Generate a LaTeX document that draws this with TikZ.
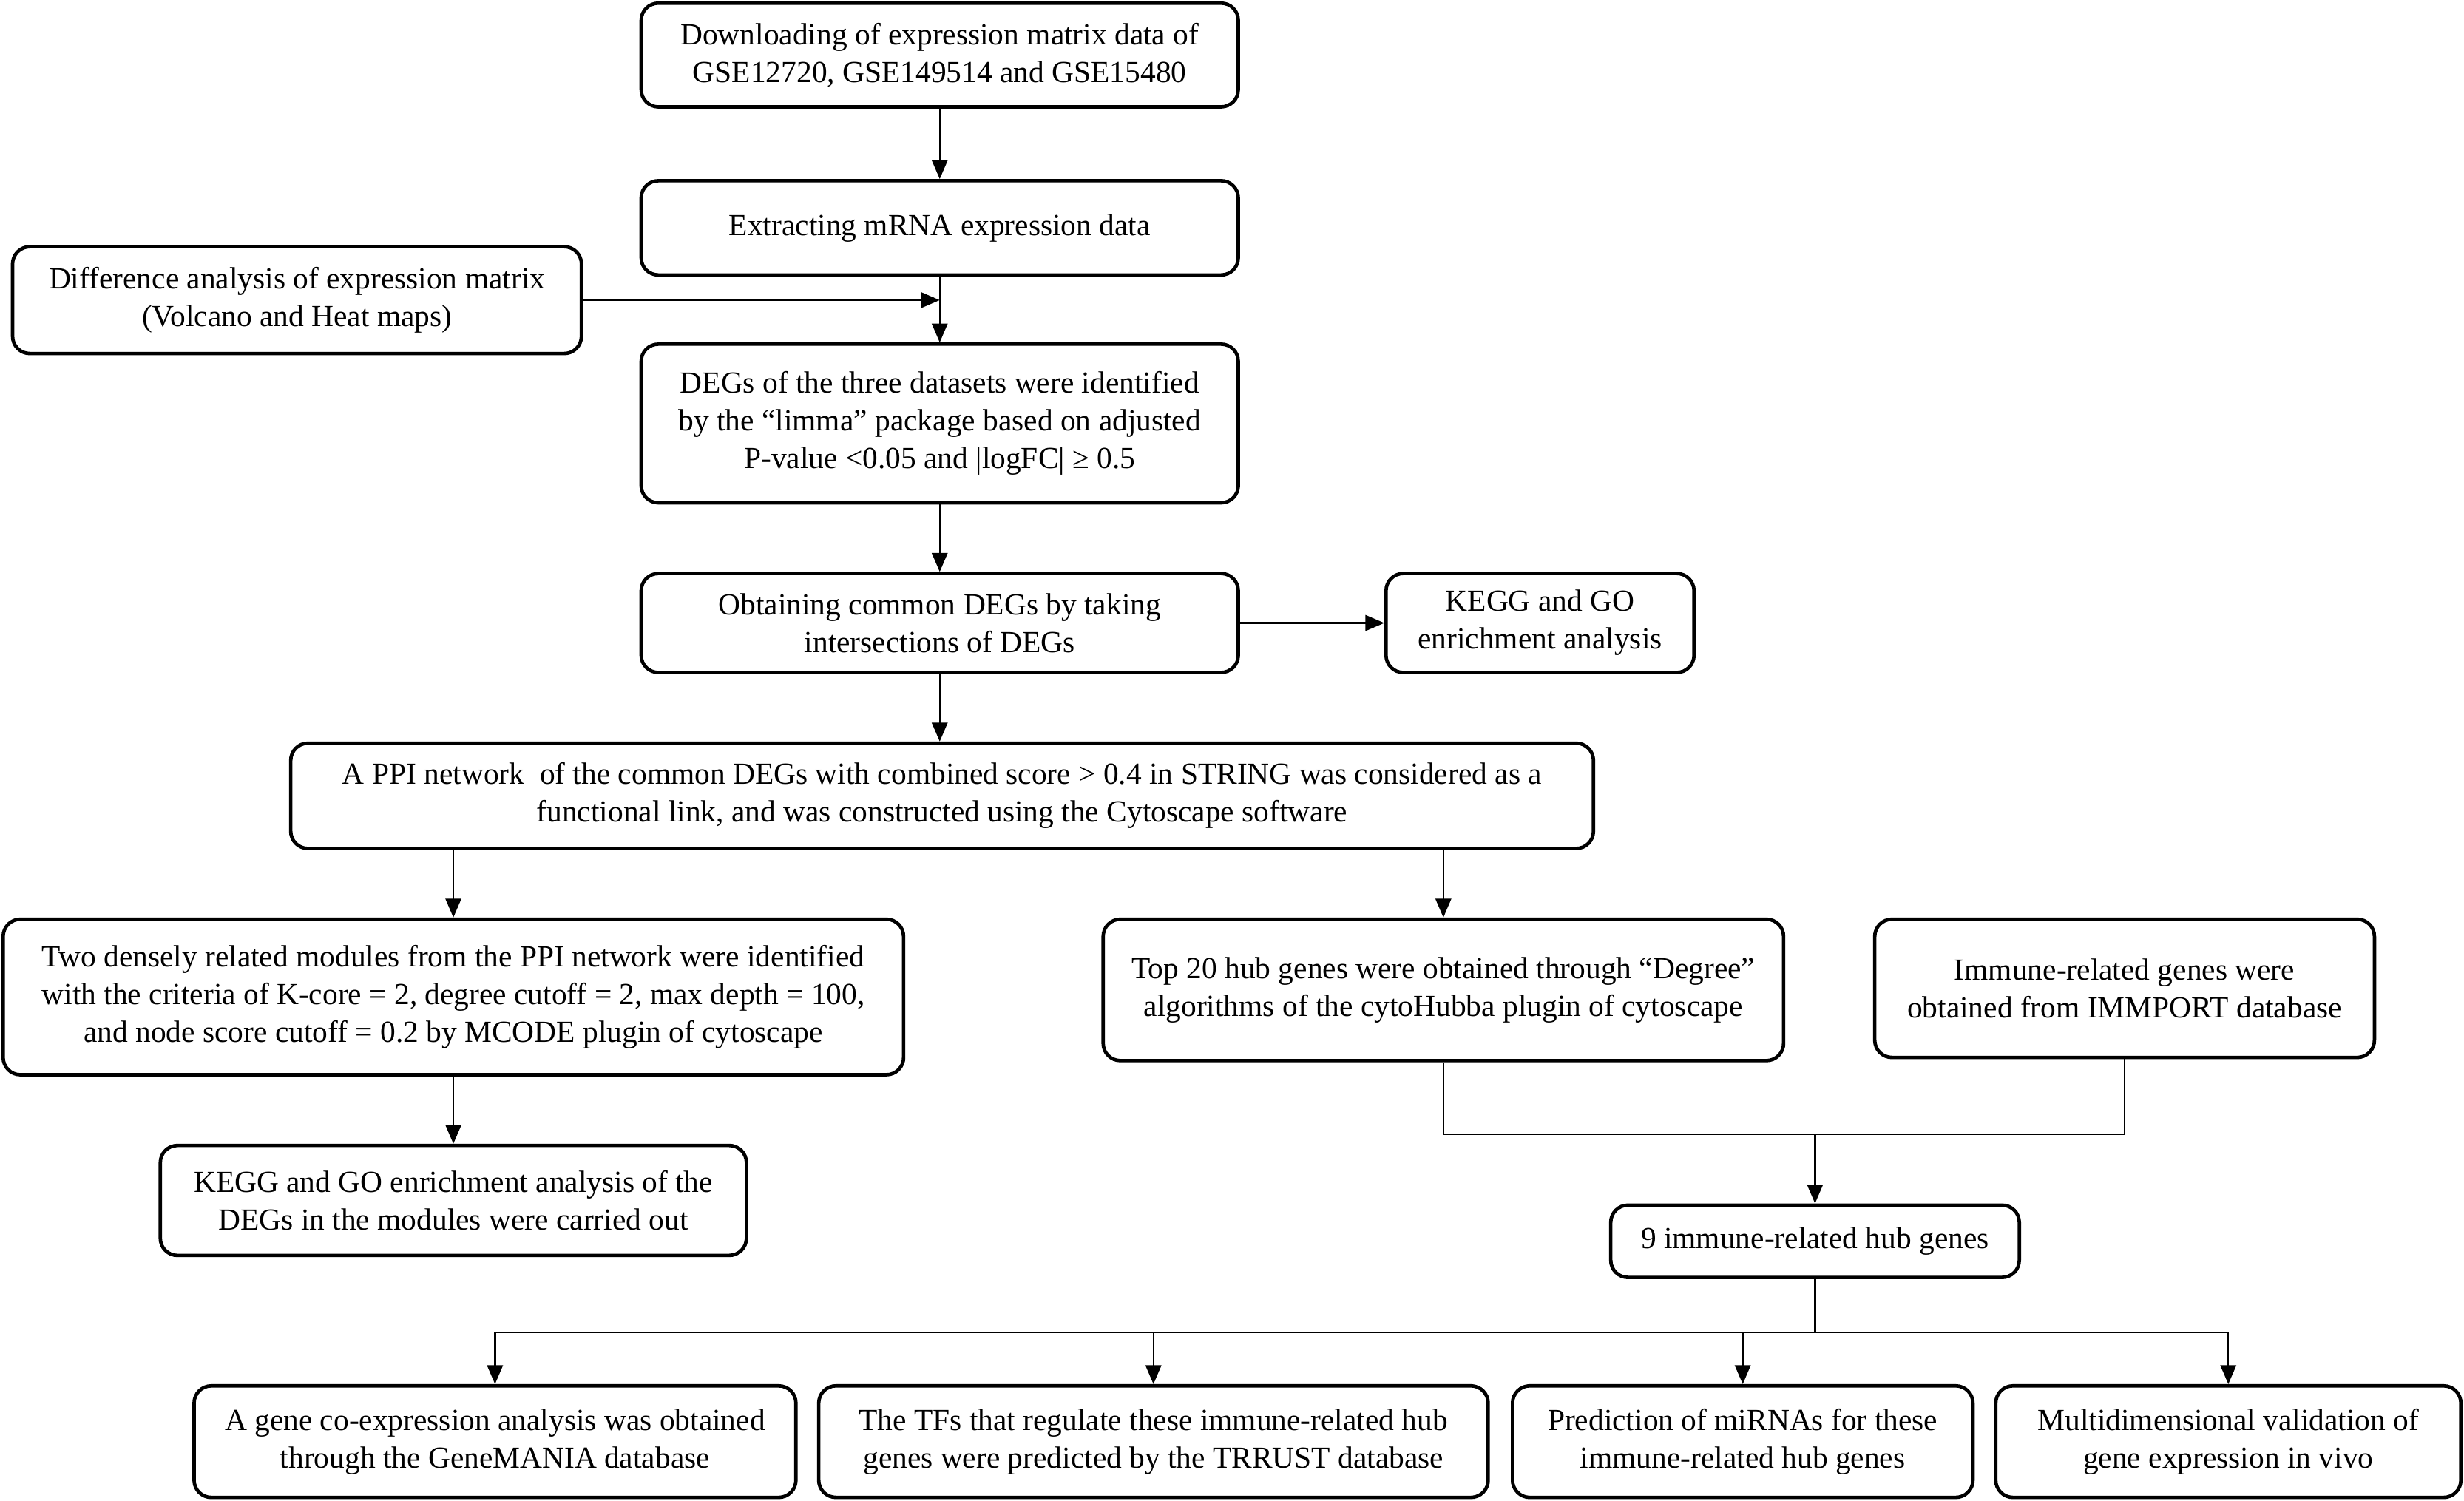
\documentclass[tikz,border=0pt]{standalone}
\usepackage{fontspec}
\setmainfont{Liberation Serif}
\usetikzlibrary{arrows.meta}
\begin{document}
\begin{tikzpicture}[x=1pt,y=-1pt,
  box/.style={draw, line width=2.2pt, rounded corners=11pt, align=center, inner sep=0pt,
    font=\fontsize{19.5}{24}\selectfont},
  arr/.style={line width=1.1pt, -{Triangle[length=12pt,width=10pt]}},
  conn/.style={line width=1.1pt}]
\useasboundingbox (0,0) rectangle (1568,955);
\node[box, minimum width=380, minimum height=66] (dl) at (598,35) {Downloading of expression matrix data of\\GSE12720, GSE149514 and GSE15480};
\node[box, minimum width=380, minimum height=60] (ext) at (598,145) {Extracting mRNA expression data};
\node[box, minimum width=362, minimum height=68] (diff) at (189,191) {Difference analysis of expression matrix\\(Volcano and Heat maps)};
\node[box, minimum width=380, minimum height=101] (degs) at (598,269.5) {DEGs of the three datasets were identified\\by the “limma” package based on adjusted\\P-value <0.05 and |logFC| ≥ 0.5};
\node[box, minimum width=380, minimum height=63] (com) at (598,396.5) {Obtaining common DEGs by taking\\intersections of DEGs};
\node[box, minimum width=196, minimum height=63] (kegg1) at (980,396.5) {KEGG and GO\\enrichment analysis};
\node[box, minimum width=829, minimum height=67] (ppi) at (599.5,506.5) {A PPI network\ \ of the common DEGs with combined score > 0.4 in STRING was considered as a\\functional link, and was constructed using the Cytoscape software};
\node[box, minimum width=573, minimum height=99] (two) at (288.5,634.5) {Two densely related modules from the PPI network were identified\\with the criteria of K-core = 2, degree cutoff = 2, max depth = 100,\\and node score cutoff = 0.2 by MCODE plugin of cytoscape};
\node[box, minimum width=433, minimum height=90] (top) at (918.5,630) {Top 20 hub genes were obtained through “Degree”\\algorithms of the cytoHubba plugin of cytoscape};
\node[box, minimum width=318, minimum height=88] (imm) at (1352,629) {Immune-related genes were\\obtained from IMMPORT database};
\node[box, minimum width=373, minimum height=70] (kegg2) at (288.5,764) {KEGG and GO enrichment analysis of the\\DEGs in the modules were carried out};
\node[box, minimum width=260, minimum height=46] (nine) at (1155,790) {9 immune-related hub genes};
\node[box, minimum width=383, minimum height=71] (ba) at (315,917.5) {A gene co-expression analysis was obtained\\through the GeneMANIA database};
\node[box, minimum width=426, minimum height=71] (bb) at (734,917.5) {The TFs that regulate these immune-related hub\\genes were predicted by the TRRUST database};
\node[box, minimum width=293, minimum height=71] (bc) at (1109,917.5) {Prediction of miRNAs for these\\immune-related hub genes};
\node[box, minimum width=296, minimum height=71] (bd) at (1418,917.5) {Multidimensional validation of\\gene expression in vivo};
\coordinate (merge) at (1155,722);
\coordinate (bus) at (1155,848);
\draw[arr] (dl) -- (ext);
\draw[arr] (ext) -- (degs);
\draw[arr] (diff.east) -- (diff.east -| ext.south);
\draw[arr] (degs) -- (com);
\draw[arr] (com) -- (kegg1);
\draw[arr] (com) -- (ppi.north -| com.south);
\draw[arr] (ppi.south -| two.north) -- (two.north);
\draw[arr] (ppi.south -| top.north) -- (top.north);
\draw[arr] (two) -- (kegg2);
\draw[conn] (top.south) -- (top.south |- merge) -- (imm.south |- merge) -- (imm.south);
\draw[arr] (merge) -- (nine.north -| merge);
\draw[conn] (nine.south -| bus) -- (bus);
\draw[conn] (bus -| ba.north) -- (bus -| bd.north);
\draw[arr] (bus -| ba.north) -- (ba.north);
\draw[arr] (bus -| bb.north) -- (bb.north);
\draw[arr] (bus -| bc.north) -- (bc.north);
\draw[arr] (bus -| bd.north) -- (bd.north);
\end{tikzpicture}
\end{document}
